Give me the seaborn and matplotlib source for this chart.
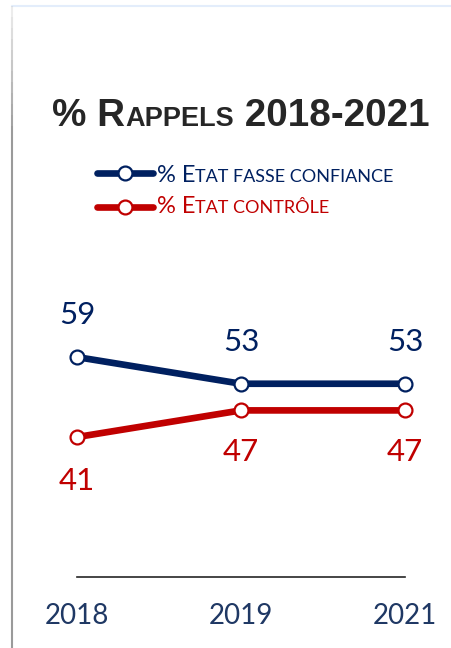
import matplotlib
matplotlib.use("Agg")
import matplotlib.pyplot as plt
import seaborn as sns
import pandas as pd
import numpy as np
from matplotlib.lines import Line2D
from matplotlib.collections import LineCollection

# ---- data ----
years = ["2018", "2019", "2021"]
confiance = [59, 53, 53]
controle = [41, 47, 47]
series_names = ["% Etat fasse confiance", "% Etat contrôle"]

BLUE = "#002060"
RED = "#C00000"
TICK = "#1F3864"
TITLE = "#262626"

sns.set_theme(style="white")
plt.rcParams["font.family"] = ["Lato", "DejaVu Sans"]

W, H = 452, 648
fig = plt.figure(figsize=(W / 100, H / 100), dpi=100)

ax = fig.add_axes([77 / W, (H - 577) / H, (405 - 77) / W, (577 - 290) / H])

df = pd.DataFrame({
    "year": years * 2,
    "x": list(range(len(years))) * 2,
    "value": confiance + controle,
    "series": [series_names[0]] * len(years) + [series_names[1]] * len(years),
})

sns.lineplot(data=df, x="x", y="value", hue="series",
             palette={series_names[0]: BLUE, series_names[1]: RED},
             linewidth=4.8, ax=ax, legend=False, clip_on=False, zorder=3)
for name, col in [(series_names[0], BLUE), (series_names[1], RED)]:
    sub = df[df.series == name]
    ax.scatter(sub["x"], sub["value"], s=100, facecolor="white", edgecolor=col,
               linewidth=1.6, zorder=5, clip_on=False)

ax.set_xlim(0, len(years) - 1)
ax.set_ylim(9.5, 74.1)

# data labels
for i, v in enumerate(confiance):
    ax.annotate(str(v), (i, v), xytext=(0, 30), textcoords="offset points",
                ha="center", va="center", fontsize=22.5, color=BLUE)
for i, v in enumerate(controle):
    off = -31.5 if i == 0 else -30
    ax.annotate(str(v), (i, v), xytext=(0, off), textcoords="offset points",
                ha="center", va="center", fontsize=22.5, color=RED)

ax.set_xticks(range(len(years)))
ax.set_xticklabels(years, fontsize=20, color=TICK)
ax.tick_params(axis="x", length=0, pad=19)
ax.set_yticks([])
ax.set_xlabel("")
ax.set_ylabel("")
for s in ["left", "right", "top"]:
    ax.spines[s].set_visible(False)
ax.spines["bottom"].set_color("#262626")
ax.spines["bottom"].set_linewidth(1.2)
ax.patch.set_alpha(0)

# ---- small caps helper ----
fig.canvas.draw()
renderer = fig.canvas.get_renderer()


def measure(s, size, weight, family):
    t1 = fig.text(0, 0, "|" + s + "|", fontsize=size, weight=weight, family=family)
    t2 = fig.text(0, 0, "||", fontsize=size, weight=weight, family=family)
    w = t1.get_window_extent(renderer).width - t2.get_window_extent(renderer).width
    t1.remove(); t2.remove()
    return w


def smallcaps(parts, x, y, color, weight, family, align="left"):
    widths = [measure(s, sz, weight, family) for s, sz in parts]
    total = sum(widths)
    cx = x - total / 2 if align == "center" else x
    for (s, sz), w in zip(parts, widths):
        fig.text(cx / W, 1 - y / H, s, fontsize=sz, weight=weight, family=family,
                 color=color, ha="left", va="baseline")
        cx += w


title_fam = ["Liberation Sans", "DejaVu Sans"]
smallcaps([("% R", 27.8), ("APPELS", 19.5), (" 2018-2021", 27.8)], 241, 126,
          TITLE, "bold", title_fam, align="center")

leg_fam = ["Lato", "DejaVu Sans"]
smallcaps([("% E", 17), ("TAT FASSE CONFIANCE", 13)], 157, 182, BLUE, "normal", leg_fam)
smallcaps([("% E", 17), ("TAT CONTRÔLE", 13)], 157, 213, RED, "normal", leg_fam)

for yy, col in [(173, BLUE), (207, RED)]:
    fig.add_artist(Line2D([97 / W, 153 / W], [1 - yy / H] * 2, color=col,
                          linewidth=4.8, solid_capstyle="round",
                          transform=fig.transFigure))
    fig.add_artist(Line2D([125 / W], [1 - yy / H], marker="o", markersize=10,
                          markerfacecolor="white", markeredgecolor=col,
                          markeredgewidth=1.6, transform=fig.transFigure))

# frame decoration
fig.add_artist(Line2D([11.5 / W, 1], [1 - 5.5 / H] * 2, color="#E3EDFB",
                      linewidth=1.5, transform=fig.transFigure))
ys = np.linspace(6, H, 60)
segs = [[(11.5 / W, 1 - a / H), (11.5 / W, 1 - b / H)] for a, b in zip(ys[:-1], ys[1:])]
cols = [plt.cm.colors.to_rgba("#9a9a9a", alpha=min(1.0, 0.15 + (a / 150))) for a in ys[:-1]]
fig.add_artist(LineCollection(segs, colors=cols, linewidths=1.5,
                              transform=fig.transFigure))

fig.savefig("out.png", dpi=100)
